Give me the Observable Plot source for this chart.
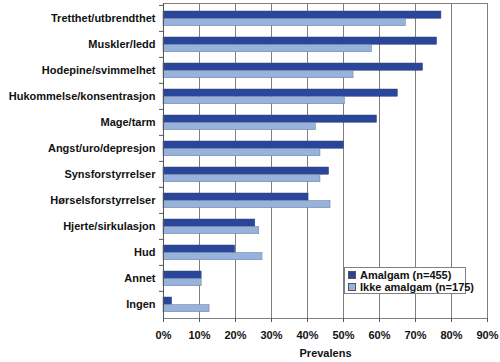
<!DOCTYPE html>
<html>
<head>
<meta charset="utf-8">
<script src="https://cdn.jsdelivr.net/npm/d3@7"></script>
<script src="https://cdn.jsdelivr.net/npm/@observablehq/plot@0.6"></script>
<style>
  html, body { margin: 0; padding: 0; background: #fff; }
  #wrap { position: relative; width: 500px; height: 362px; font-family: "Liberation Sans", Arial, sans-serif; }
  #legend { position: absolute; left: 344px; top: 267px; width: 120px; height: 25px; border: 1px solid #808080; background: #fff;
            font: bold 11px "Liberation Sans", Arial, sans-serif; color: #111; }
  .row { position: absolute; left: 3px; height: 12px; line-height: 12px; white-space: nowrap; }
  .sw { display: inline-block; width: 6px; height: 6px; border: 1px solid #555; margin-right: 4px; vertical-align: 0px; }
</style>
</head>
<body>
<div id="wrap"></div>
<script>
const categories = [
  "Tretthet/utbrendthet", "Muskler/ledd", "Hodepine/svimmelhet", "Hukommelse/konsentrasjon",
  "Mage/tarm", "Angst/uro/depresjon", "Synsforstyrrelser", "Hørselsforstyrrelser",
  "Hjerte/sirkulasjon", "Hud", "Annet", "Ingen"
];
const amalgam     = [77.2, 76.0, 72.1, 65.1, 59.3, 50.1, 46.0, 40.3, 25.5, 19.9, 10.6, 2.4];
const ikkeAmalgam = [67.3, 57.9, 52.8, 50.4, 42.3, 43.6, 43.6, 46.4, 26.6, 27.5, 10.6, 12.8];
const seriesNames = ["Amalgam (n=455)", "Ikke amalgam (n=175)"];
const seriesColors = ["#29469a", "#97b2dc"];
const xTicks = [0, 10, 20, 30, 40, 50, 60, 70, 80, 90];
const xLabel = "Prevalens";

const dataA = categories.map((c, i) => ({category: c, value: amalgam[i]}));
const dataB = categories.map((c, i) => ({category: c, value: ikkeAmalgam[i]}));

const chart = Plot.plot({
  width: 500,
  height: 362,
  marginTop: 3,
  marginBottom: 44,
  marginLeft: 163,
  marginRight: 13,
  style: {fontFamily: "Liberation Sans, Arial, sans-serif", fontSize: "11px", fontWeight: "bold", color: "#111", background: "#fff"},
  x: {domain: [0, 90]},
  y: {domain: categories, padding: 0},
  marks: [
    Plot.gridX(xTicks, {stroke: "#7f7f7f", strokeOpacity: 1}),
    Plot.barX(dataA, {x: "value", y: "category", fill: seriesColors[0], stroke: "#3a4a70", strokeWidth: 0.5, insetTop: 6, insetBottom: 12.75}),
    Plot.barX(dataB, {x: "value", y: "category", fill: seriesColors[1], stroke: "#6a7a90", strokeWidth: 0.5, insetTop: 13.5, insetBottom: 5.25}),
    Plot.frame({stroke: "#7f7f7f"}),
    Plot.ruleX([0], {stroke: "#555"}),
    Plot.axisX(xTicks, {tickSize: 4, tickPadding: 9, tickFormat: d => d + "%", label: null, stroke: "#555"}),
    Plot.axisY({tickSize: 0, tickPadding: 8, label: null}),
    Plot.axisY({tickSize: 4, tickFormat: () => "", label: null, dy: -13.125, stroke: "#555"}),
    Plot.text([xLabel], {frameAnchor: "bottom", dy: 38, fontSize: 11, fontWeight: "bold", fill: "#111"})
  ]
});

const wrap = document.getElementById("wrap");
wrap.appendChild(chart);

const legend = document.createElement("div");
legend.id = "legend";
seriesNames.forEach((name, i) => {
  const row = document.createElement("div");
  row.className = "row";
  row.style.top = (i === 0 ? 1 : 13) + "px";
  const sw = document.createElement("span");
  sw.className = "sw";
  sw.style.background = seriesColors[i];
  row.appendChild(sw);
  row.appendChild(document.createTextNode(name));
  legend.appendChild(row);
});
wrap.appendChild(legend);
</script>
</body>
</html>
